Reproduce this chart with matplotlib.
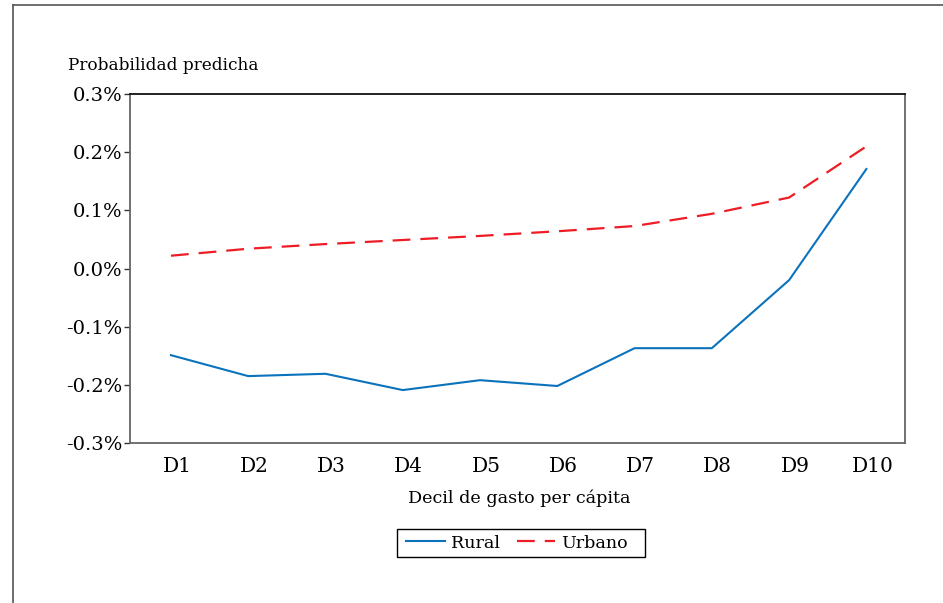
import matplotlib
matplotlib.use("Agg")
import matplotlib.pyplot as plt
from matplotlib.lines import Line2D
from matplotlib.patches import Rectangle
from matplotlib.ticker import FuncFormatter
from matplotlib.transforms import ScaledTranslation

categories = ["D1", "D2", "D3", "D4", "D5", "D6", "D7", "D8", "D9", "D10"]
rural = [-0.149, -0.185, -0.181, -0.209, -0.192, -0.202, -0.137, -0.137, -0.020, 0.171]
urbano = [0.022, 0.034, 0.042, 0.049, 0.056, 0.064, 0.073, 0.094, 0.122, 0.210]
yticks = [-0.3, -0.2, -0.1, 0.0, 0.1, 0.2, 0.3]

plt.rcParams['font.family'] = ['DejaVu Serif']

fig = plt.figure(figsize=(9.43, 6.03), dpi=100)
W, H = 943, 603
ax = fig.add_axes([130 / W, 1 - 443 / H, 775 / W, 349 / H])

x = list(range(1, len(categories) + 1))
ax.plot(x, rural, color="#0B72BC", linewidth=1.5, label="Rural")
ax.plot(x, urbano, color="#EE1C25", linewidth=1.6, dashes=(8, 4.5), label="Urbano")

ax.set_xlim(0.47, 10.5)
ax.set_ylim(-0.3, 0.3)
ax.set_xticks(x)
ax.set_xticklabels(categories, fontsize=14.5)
ax.set_yticks(yticks)
ax.yaxis.set_major_formatter(FuncFormatter(lambda v, p: f"{v:.1f}%"))
ax.tick_params(axis='y', labelsize=14, length=4, width=1, direction='out', color='#333333', pad=1.5)
ax.tick_params(axis='x', length=0, pad=10)
offset = ScaledTranslation(6 / 100, 0, fig.dpi_scale_trans)
for lab in ax.get_xticklabels():
    lab.set_transform(lab.get_transform() + offset)

ax.spines['top'].set_color('#111111')
ax.spines['top'].set_linewidth(1.3)
for s in ['left', 'bottom', 'right']:
    ax.spines[s].set_color('#666666')
    ax.spines[s].set_linewidth(1.3)

fig.text(519 / W, 1 - 503 / H, "Decil de gasto per cápita", fontsize=12.6, ha='center', va='baseline')
fig.text(68 / W, 1 - 70 / H, "Probabilidad predicha", fontsize=12.2, ha='left', va='baseline')

leg = fig.legend(loc='center', bbox_to_anchor=(517 / W, 1 - 543 / H), ncol=2, fontsize=12.6,
                 frameon=False, handlelength=2.2, handletextpad=0.35, columnspacing=0.95,
                 borderpad=0, borderaxespad=0)
fig.add_artist(Rectangle((397 / W, 1 - 557 / H), 248 / W, 28 / H, transform=fig.transFigure,
                         fill=False, edgecolor='black', linewidth=1.0))

# outer frame of the figure (partially visible)
fig.add_artist(Line2D([13 / W, 13 / W], [0, 1 - 5 / H], transform=fig.transFigure, color='#555555', linewidth=1.2))
fig.add_artist(Line2D([13 / W, 1], [1 - 5 / H, 1 - 5 / H], transform=fig.transFigure, color='#555555', linewidth=1.2))

fig.savefig("out.png", dpi=100)
